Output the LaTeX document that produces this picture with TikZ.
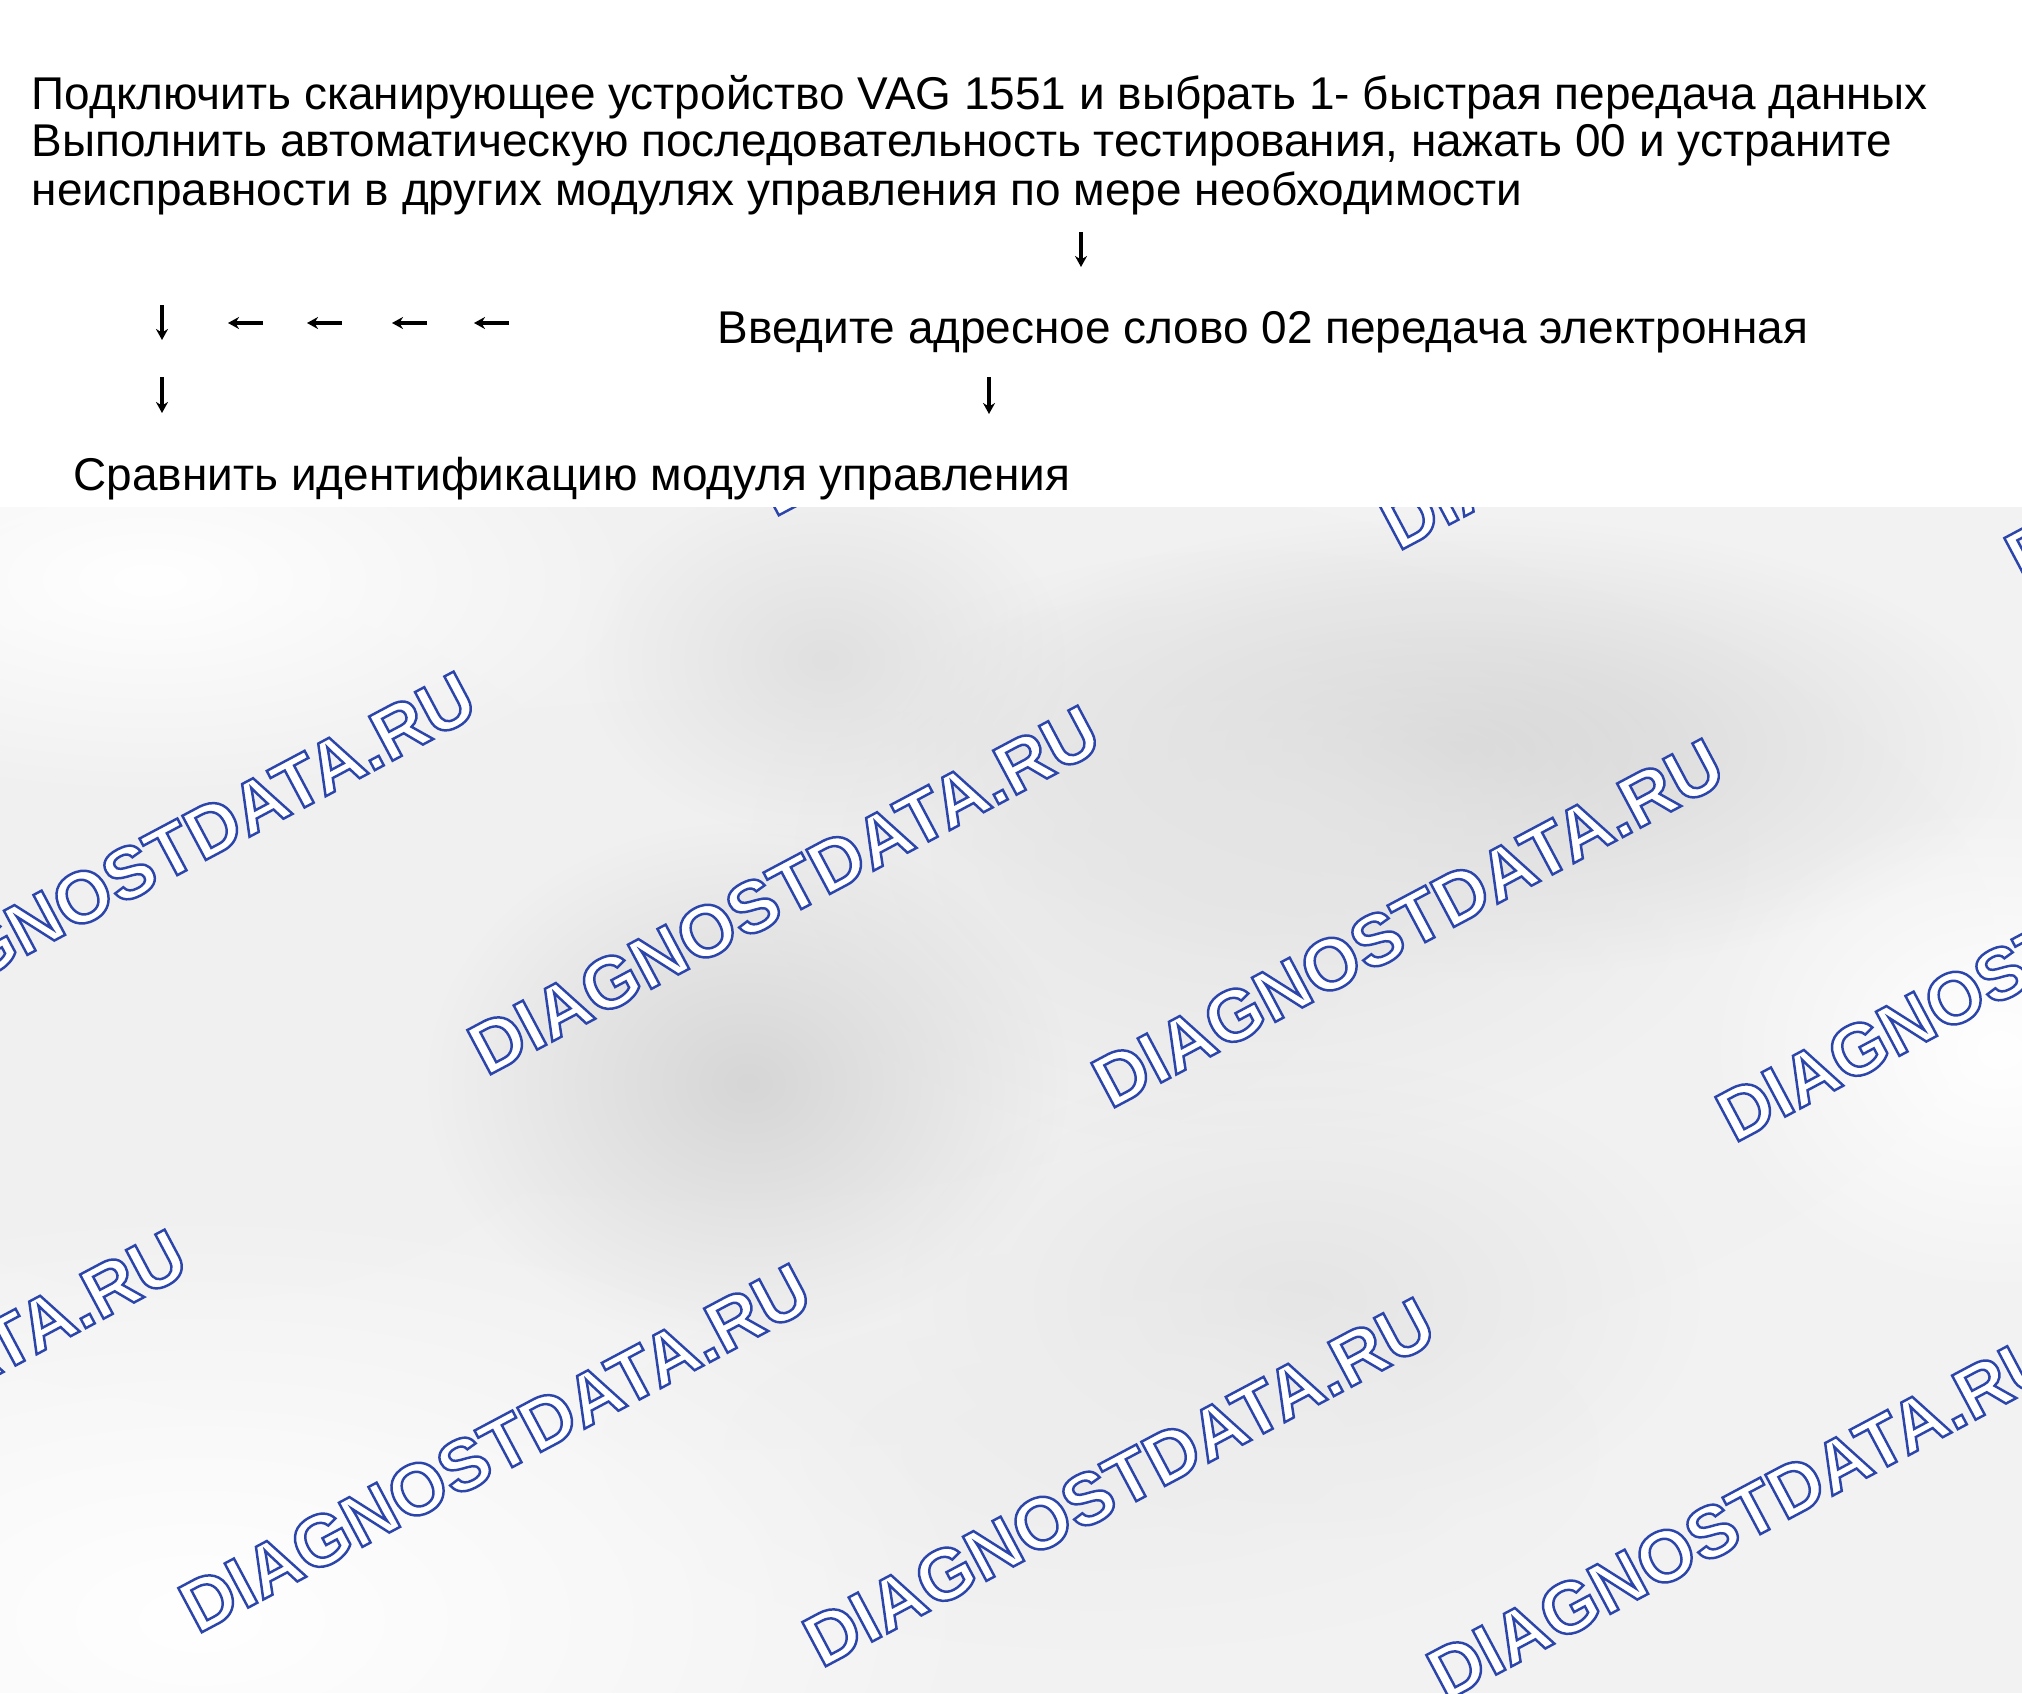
\documentclass[tikz,border=0pt]{standalone}
\usepackage{fontspec}
\setmainfont{Liberation Sans}
\newfontfamily\wmfont{Liberation Sans}
\usetikzlibrary{arrows.meta,fadings}

\tikzfading[name=blurblob, inner color=transparent!0, outer color=transparent!100]

\tikzset{
  txt/.style={anchor=base west, inner sep=0pt, font=\fontsize{13.07pt}{13.6pt}\selectfont},
  flow/.style={line width=0.9pt, -{Stealth[length=1.1mm, width=1.2mm]}},
  wmark/.style={rotate=28, inner sep=0pt, font=\fontsize{20.7pt}{20.7pt}\wmfont\bfseries},
  blob/.style={path fading=blurblob}
}
% white letters with a blue outline
\newcommand\outlined[1]{\special{pdf:literal direct 1 g 0.17 0.27 0.67 RG 0.7 w 2 Tr}#1\special{pdf:literal direct 0 Tr 0 g 0 G}}

\begin{document}
\begin{tikzpicture}[x=0.1mm, y=-0.1mm]
\useasboundingbox (0,0) rectangle (2022,1693);

% grey blurred background
\fill[black!5] (0,507) rectangle (2022,1693);
\fill[black!6, blob] (700,950) ellipse (1300 and 500);
\fill[black!6, blob] (200,950) ellipse (450 and 350);
\fill[black!17, blob] (1457,748) ellipse (560 and 230);
\fill[black!10, blob] (1250,850) ellipse (500 and 300);
\fill[black!16, blob] (748,1083) ellipse (320 and 260);
\fill[black!12, blob] (825,660) ellipse (240 and 180);
\fill[black!10, blob] (1300,1300) ellipse (400 and 240);
\fill[black!7, blob] (1100,1450) ellipse (500 and 200);
\fill[white, blob] (200,1620) ellipse (800 and 420);
\fill[white, blob] (150,580) ellipse (500 and 220);
\fill[white, blob] (2000,1050) ellipse (300 and 250);

% watermarks
\foreach \cx/\cy [count=\i] in {1072/331, 1696/365, 2321/398,
    160/856, 784/890, 1408/923, 2032/957,
    -129/1414, 495/1448, 1119/1482, 1743/1515}
  \node[wmark] (wm\i) at (\cx,\cy) {\outlined{DIAGNOSTDATA.RU}};

\fill[white] (0,0) rectangle (2022,507);

\node[txt] (step1a) at (31,110) {Подключить сканирующее устройство VAG 1551 и выбрать 1- быстрая передача данных};
\node[txt] (step1b) at (31,157) {Выполнить автоматическую последовательность тестирования, нажать 00 и устраните};
\node[txt] (step1c) at (31,205) {неисправности в других модулях управления по мере необходимости};
\node[txt] (step2) at (717,343) {Введите адресное слово 02 передача электронная};
\node[txt] (step3) at (73,490) {Сравнить идентификацию модуля управления};

% arrows
\coordinate (d1s) at (1081,232); \coordinate (d1e) at (1081,267);
\coordinate (d2s) at (162,305);  \coordinate (d2e) at (162,340);
\coordinate (d3s) at (162,377);  \coordinate (d3e) at (162,413);
\coordinate (d4s) at (989,377);  \coordinate (d4e) at (989,414);
\foreach \s in {1,...,4}
  \draw[flow] (d\s s) -- (d\s e);
\foreach \x [count=\i] in {509,427,342,263} {
  \coordinate (l\i s) at (\x,323);
  \coordinate (l\i e) at (\x-35,323);
  \draw[flow] (l\i s) -- (l\i e);
}
\end{tikzpicture}
\end{document}
